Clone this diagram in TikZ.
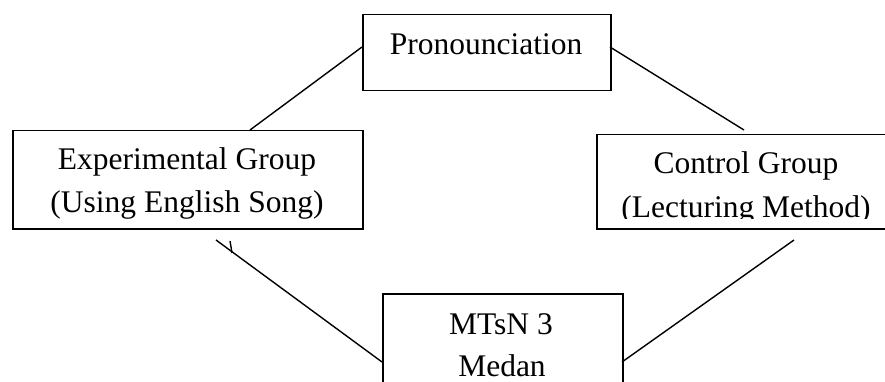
\documentclass[tikz,border=0pt]{standalone}
\usepackage{fontspec}
\setmainfont{Liberation Serif}
\begin{document}
\begin{tikzpicture}[x=1pt,y=-1pt,
  box/.style={draw,line width=1.5pt,rectangle,inner sep=0pt,anchor=north west},
  lbl/.style={anchor=base,inner sep=0pt,font=\fontsize{31.5}{38}\selectfont},
  link/.style={line width=1.4pt}]
\useasboundingbox (0,0) rectangle (885,382);
\clip (0,0) rectangle (885,382);
% boxes
\node[box,minimum width=248pt,minimum height=76pt] (pron) at (362,14) {};
\node[box,minimum width=350pt,minimum height=98pt] (exp) at (12,130) {};
\node[box,minimum width=300pt,minimum height=94pt] (ctrl) at (596,134) {};
\node[box,minimum width=240pt,minimum height=110pt] (mtsn) at (382,293) {};
% texts
\node[lbl] (tpron) at (486,55) {Pronounciation};
\node[lbl] (texp1) at (187,170) {Experimental Group};
\node[lbl] (texp2) at (187,212) {(Using English Song)};
\node[lbl] (tctrl1) at (746,174) {Control Group};
\begin{scope}
\clip (597,134) rectangle (885,218.5);
\node[lbl] (tctrl2) at (746,217) {(Lecturing Method)};
\end{scope}
\node[lbl] (tmtsn1) at (501,334) {MTsN 3};
\node[lbl] (tmtsn2) at (502,376) {Medan};
% connector end points
\coordinate (a1) at (362,47);
\coordinate (a2) at (250,130);
\coordinate (b1) at (610,47);
\coordinate (b2) at (744,130);
\coordinate (c1) at (216,240);
\coordinate (c2) at (382,362);
\coordinate (d1) at (794,240);
\coordinate (d2) at (622,362);
\coordinate (t1) at (230,241);
\coordinate (t2) at (232,253);
\draw[link] (a1) -- (a2);
\draw[link] (b1) -- (b2);
\draw[link] (c1) -- (c2);
\draw[link] (d1) -- (d2);
\draw[link] (t1) -- (t2);
\end{tikzpicture}
\end{document}
